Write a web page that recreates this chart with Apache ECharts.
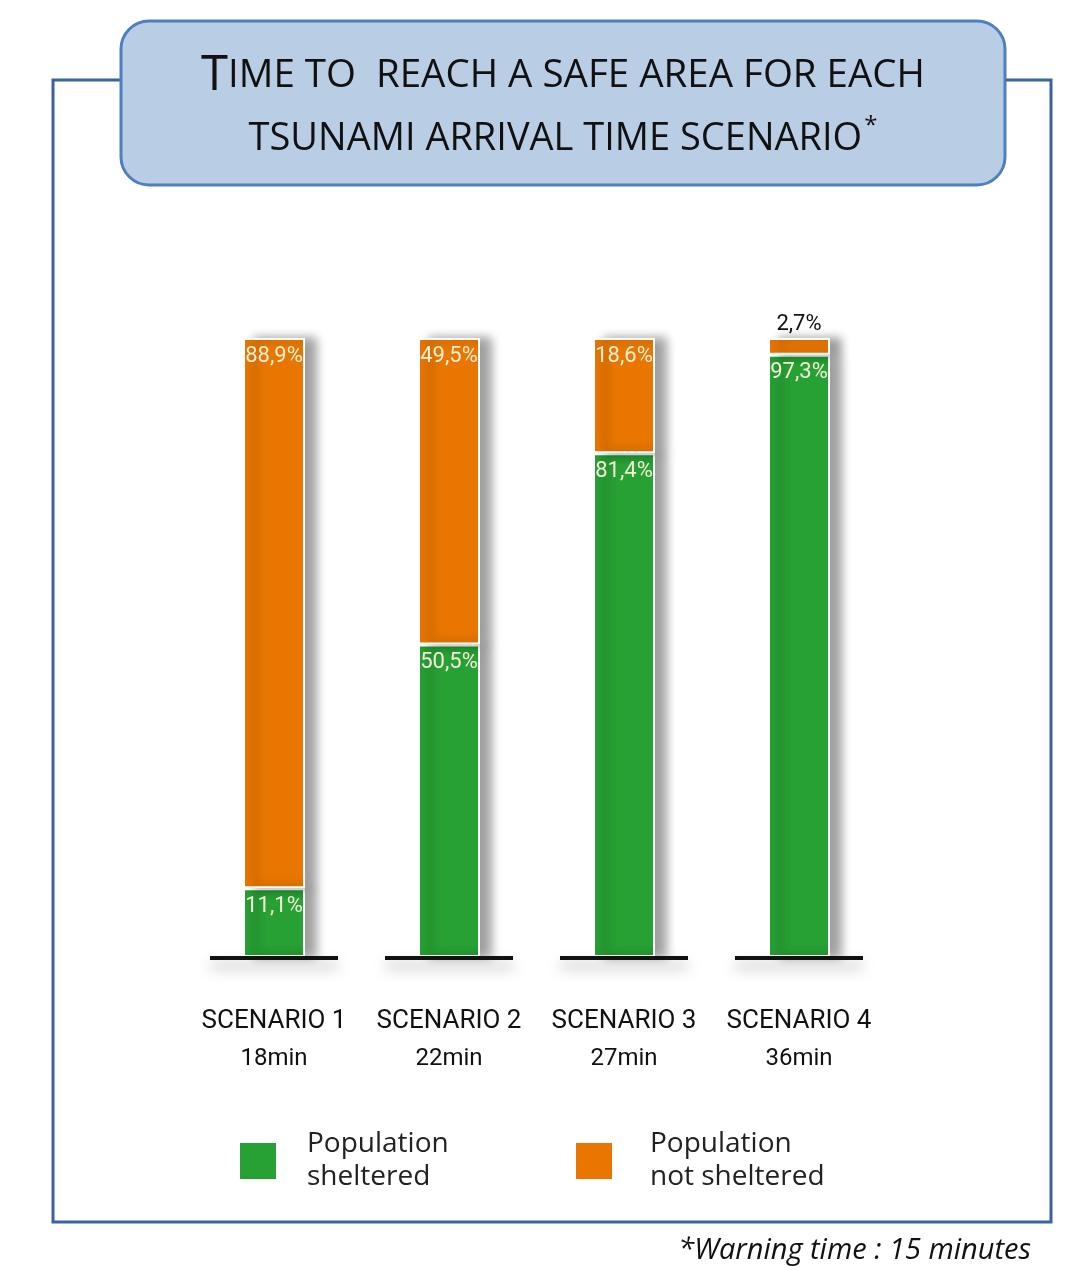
<!DOCTYPE html>
<html>
<head>
<meta charset="utf-8">
<script src="https://cdn.jsdelivr.net/npm/echarts@6/dist/echarts.min.js"></script>
<style>
  html, body { margin: 0; padding: 0; background: #fff; }
  #chart { width: 1088px; height: 1270px; }
</style>
</head>
<body>
<div id="chart"></div>
<script>
var scenarios = ['SCENARIO 1', 'SCENARIO 2', 'SCENARIO 3', 'SCENARIO 4'];
var arrivalTimes = ['18min', '22min', '27min', '36min'];
var sheltered = [11.1, 50.5, 81.4, 97.3];
var notSheltered = [88.9, 49.5, 18.6, 2.7];

var narrow = "Roboto, 'Open Sans', sans-serif";
var body = "'Open Sans', Lato, sans-serif";
var green = '#27a034';
var orange = '#e97600';

function pct(v) {
    return String(v).replace('.', ',') + '%';
}

var myChart = echarts.init(document.getElementById('chart'), null, { renderer: 'canvas' });

var barShadow = {
    borderColor: '#fff',
    borderWidth: 2,
    shadowColor: 'rgba(0,0,0,0.38)',
    shadowBlur: 10,
    shadowOffsetX: 11,
    shadowOffsetY: 0
};

var option = {
    animation: false,
    backgroundColor: '#fff',
    grid: { left: 186.5, width: 700, top: 338, bottom: 313 },
    xAxis: {
        type: 'category',
        data: scenarios,
        axisLine: { show: false },
        axisTick: { show: false },
        axisLabel: {
            margin: 44,
            interval: 0,
            formatter: function (v, i) {
                return '{a|' + v + '}\n{b|' + arrivalTimes[i] + '}';
            },
            rich: {
                a: { fontFamily: narrow, fontSize: 26, color: '#111', lineHeight: 40 },
                b: { fontFamily: narrow, fontSize: 24, color: '#111', lineHeight: 36 }
            }
        }
    },
    yAxis: {
        type: 'value', min: 0, max: 100, show: false,
        splitLine: { show: false }
    },
    legend: [
        {
            left: 233, top: 1123,
            data: ['Population sheltered'],
            itemWidth: 38, itemHeight: 38, icon: 'rect',
            formatter: function () { return 'Population\nsheltered'; },
            textStyle: { fontFamily: body, fontSize: 28, color: '#222', lineHeight: 33, padding: [0, 0, 0, 25] }
        },
        {
            left: 569, top: 1123,
            data: ['Population not sheltered'],
            itemWidth: 38, itemHeight: 38, icon: 'rect',
            formatter: function () { return 'Population\nnot sheltered'; },
            textStyle: { fontFamily: body, fontSize: 28, color: '#222', lineHeight: 33, padding: [0, 0, 0, 32] }
        }
    ],
    graphic: [
        {
            type: 'rect', z: 0,
            shape: { x: 53, y: 80, width: 998, height: 1142 },
            style: { fill: 'none', stroke: '#3b62a0', lineWidth: 3 }
        },
        {
            type: 'rect', z: 10,
            shape: { x: 121, y: 21, width: 884, height: 164, r: 28 },
            style: { fill: '#b9cde5', stroke: '#4f80be', lineWidth: 3 }
        },
        {
            type: 'text', z: 11, x: 563, y: 52,
            style: {
                text: '{big|T}{sm|IME TO  REACH A SAFE AREA FOR EACH}',
                align: 'center',
                rich: {
                    big: { fontFamily: body, fontSize: 49, fill: '#111' },
                    sm: { fontFamily: body, fontSize: 38.5, fill: '#111' }
                }
            }
        },
        {
            type: 'text', z: 11, x: 563, y: 114,
            style: {
                text: '{sm|TSUNAMI ARRIVAL TIME SCENARIO}{sup|*}',
                align: 'center',
                rich: {
                    sm: { fontFamily: body, fontSize: 38, fill: '#111' },
                    sup: { fontFamily: body, fontSize: 24, fill: '#111', verticalAlign: 'top', padding: [0, 0, 26, 2] }
                }
            }
        },
        {
            type: 'text', right: 57, top: 1236,
            style: {
                text: '*Warning time : 15 minutes',
                fontFamily: body, fontStyle: 'italic', fontSize: 29, fill: '#111'
            }
        }
    ],
    series: [
        {
            name: 'Population sheltered',
            type: 'bar', stack: 'pop', barWidth: 62,
            data: sheltered,
            itemStyle: Object.assign({ color: green }, barShadow),
            label: {
                show: true, position: 'insideTop', distance: 7,
                fontFamily: narrow, fontSize: 22, color: '#f3f0d6',
                formatter: function (p) { return pct(p.value); }
            },
            z: 3
        },
        {
            name: 'Population not sheltered',
            type: 'bar', stack: 'pop', barWidth: 62,
            data: notSheltered.map(function (v, i) {
                if (v < 5) {
                    return {
                        value: v,
                        label: { position: 'top', color: '#111', distance: 3, fontFamily: narrow, fontSize: 22 }
                    };
                }
                return v;
            }),
            itemStyle: Object.assign({ color: orange }, barShadow),
            label: {
                show: true, position: 'insideTop', distance: 7,
                fontFamily: narrow, fontSize: 22, color: '#f3f0d6',
                formatter: function (p) { return pct(p.value); }
            },
            z: 3
        },
        {
            type: 'custom',
            data: scenarios.map(function (s, i) { return [i, 0]; }),
            silent: true,
            z: 4,
            renderItem: function (params, api) {
                var p = api.coord([api.value(0), 0]);
                return {
                    type: 'line',
                    shape: { x1: p[0] - 64, y1: p[1] + 1, x2: p[0] + 64, y2: p[1] + 1 },
                    style: {
                        stroke: '#111', lineWidth: 4,
                        shadowColor: 'rgba(0,0,0,0.35)', shadowBlur: 14, shadowOffsetY: 8
                    }
                };
            }
        }
    ]
};

myChart.setOption(option);
</script>
</body>
</html>
